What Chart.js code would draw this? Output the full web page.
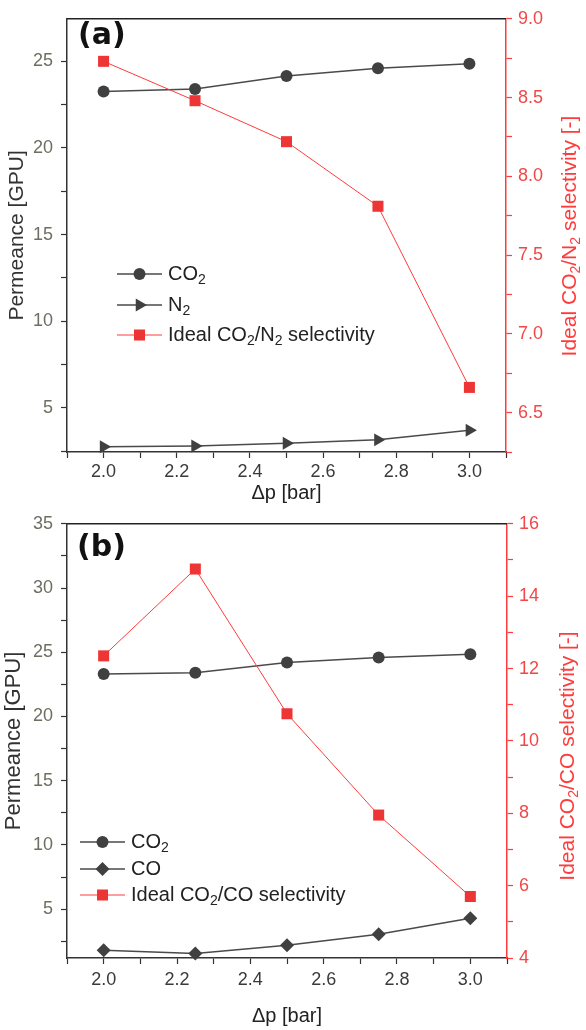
<!DOCTYPE html>
<html>
<head>
<meta charset="utf-8">
<script src="https://cdn.jsdelivr.net/npm/chart.js@4.4.1/dist/chart.umd.min.js"></script>
<style>
  body { margin: 0; background: #fff; }
  canvas { display: block; }
</style>
</head>
<body>
<canvas id="chartA" width="586" height="505"></canvas>
<canvas id="chartB" width="586" height="525"></canvas>
<script>
const pressure = [2.0, 2.25, 2.5, 2.75, 3.0];

// panel (a): CO2 / N2
const co2PermA = [23.25, 23.4, 24.15, 24.6, 24.85];
const n2Perm = [2.75, 2.8, 2.95, 3.15, 3.7];
const selCO2N2 = [8.73, 8.48, 8.22, 7.81, 6.66];

// panel (b): CO2 / CO
const co2PermB = [23.3, 23.4, 24.2, 24.6, 24.85];
const coPerm = [1.8, 1.55, 2.2, 3.05, 4.3];
const selCO2CO = [12.35, 14.75, 10.75, 7.95, 5.7];

// labelled ticks
const xTickLabels = [2.0, 2.2, 2.4, 2.6, 2.8, 3.0];
const permTicksA = [5, 10, 15, 20, 25];
const permTicksB = [5, 10, 15, 20, 25, 30, 35];
const selTicksA = [6.5, 7.0, 7.5, 8.0, 8.5, 9.0];
const selTicksB = [4, 6, 8, 10, 12, 14, 16];

const F = "'Liberation Sans', Arial, sans-serif";
const DARK = '#404040';
const RED = '#ff3b3b';

function steps(a, b, s) {
  const out = [];
  for (let v = a; v <= b + 1e-9; v += s) out.push(Math.round(v * 1000) / 1000);
  return out;
}
const has = (arr, v) => arr.some(t => Math.abs(t - v) < 1e-6);

// draws text, turning every ₂ into a real lowered small "2"
function drawRich(ctx, text, x, y, size, color, align) {
  const parts = text.split('₂');
  const big = size + 'px ' + F, small = Math.round(size * 0.68) + 'px ' + F;
  let total = 0;
  parts.forEach((p, i) => {
    ctx.font = big; total += ctx.measureText(p).width;
    if (i < parts.length - 1) { ctx.font = small; total += ctx.measureText('2').width; }
  });
  let cx = align === 'center' ? x - total / 2 : x;
  ctx.fillStyle = color;
  ctx.textAlign = 'left';
  ctx.textBaseline = 'middle';
  parts.forEach((p, i) => {
    ctx.font = big; ctx.fillText(p, cx, y); cx += ctx.measureText(p).width;
    if (i < parts.length - 1) {
      ctx.font = small; ctx.fillText('2', cx, y + size * 0.3); cx += ctx.measureText('2').width;
    }
  });
}

const decor = {
  id: 'decor',
  afterDraw(chart, args, o) {
    const { ctx, chartArea: a } = chart;
    ctx.save();
    ctx.strokeStyle = '#222';
    ctx.lineWidth = 1.5;
    ctx.beginPath(); ctx.moveTo(a.left, a.top); ctx.lineTo(a.right, a.top); ctx.stroke();

    ctx.fillStyle = '#111';
    ctx.font = "bold 30px 'DejaVu Sans', " + F;
    ctx.textBaseline = 'middle';
    ctx.textAlign = 'left';
    ctx.fillText(o.panel, o.panelX, o.panelY);

    // legend
    chart.data.datasets.forEach((ds, i) => {
      const y = o.legend.rows[i];
      ctx.strokeStyle = ds.borderColor;
      ctx.lineWidth = ds.borderWidth;
      ctx.beginPath(); ctx.moveTo(o.legend.x0, y); ctx.lineTo(o.legend.x1, y); ctx.stroke();
      ctx.fillStyle = ds.pointBackgroundColor;
      Chart.helpers.drawPoint(ctx, {
        pointStyle: ds.pointStyle, rotation: ds.pointRotation || 0,
        radius: ds.pointRadius, borderWidth: 0
      }, (o.legend.x0 + o.legend.x1) / 2, y);
      drawRich(ctx, ds.label, o.legend.xText, y, 20, '#222', 'left');
    });

    // right axis title, reading upwards
    ctx.translate(o.rightTitleX, o.rightTitleY);
    ctx.rotate(-Math.PI / 2);
    drawRich(ctx, o.rightTitle, 0, 0, 21, RED, 'center');
    ctx.restore();
  }
};

function darkSeries(label, values, style, radius, rot) {
  return {
    label, yAxisID: 'y', order: 2, clip: false,
    data: pressure.map((x, i) => ({ x, y: values[i] })),
    borderColor: '#4a4a4a', borderWidth: 1.5,
    pointStyle: style, pointRotation: rot || 0, pointRadius: radius,
    pointBackgroundColor: DARK, pointBorderWidth: 0
  };
}
function redSeries(label, values) {
  return {
    label, yAxisID: 'y1', order: 0, clip: false,
    data: pressure.map((x, i) => ({ x, y: values[i] })),
    borderColor: RED, borderWidth: 1,
    pointStyle: 'rect', pointRadius: 7.8,
    pointBackgroundColor: '#ee3535', pointBorderWidth: 0
  };
}

function makeChart(id, o) {
  return new Chart(document.getElementById(id), {
    type: 'line',
    data: { datasets: o.datasets },
    options: {
      responsive: false,
      animation: false,
      devicePixelRatio: 1,
      layout: { padding: { top: o.padTop, left: 0, right: 0, bottom: 0 } },
      plugins: { legend: { display: false }, tooltip: { enabled: false }, decor: o.decor },
      scales: {
        x: {
          type: 'linear', min: 1.9, max: 3.1,
          afterBuildTicks: s => { s.ticks = steps(1.9, 3.1, 0.1).map(v => ({ value: v })); },
          afterFit: s => { s.height = o.xAxisH; },
          border: { color: '#333', width: 1.5 },
          grid: { drawOnChartArea: false, tickLength: 6, tickColor: '#333', tickWidth: 1.2 },
          ticks: {
            autoSkip: false, maxRotation: 0, padding: o.xTickPad, color: '#3a3a3a',
            font: { size: 18, family: F },
            callback: v => has(xTickLabels, v) ? v.toFixed(1) : ''
          },
          title: { display: true, text: 'Δp [bar]', color: '#222', font: { size: 20, family: F }, padding: { top: 0, bottom: o.xTitlePad } }
        },
        y: {
          type: 'linear', position: 'left', min: o.permMin, max: o.permMax,
          afterBuildTicks: s => { s.ticks = steps(2.5, o.permMax, 2.5).map(v => ({ value: v })); },
          afterFit: s => { s.width = 67; },
          border: { color: '#333', width: 1.5 },
          grid: { drawOnChartArea: false, tickLength: 6, tickColor: '#333', tickWidth: 1.2 },
          ticks: {
            padding: 8, color: '#6e6e62', font: { size: 18, family: F },
            callback: v => has(o.permTicks, v) ? String(v) : ''
          },
          title: { display: true, text: 'Permeance [GPU]', color: '#333', font: { size: o.leftTitleSize, family: F }, padding: { top: o.leftTitlePad, bottom: 0 } }
        },
        y1: {
          type: 'linear', position: 'right', min: o.selMin, max: o.selMax,
          afterBuildTicks: s => { s.ticks = steps(o.selMin, o.selMax, o.selMinor).map(v => ({ value: v })); },
          afterFit: s => { s.width = o.rightW; },
          border: { color: RED, width: 1.5 },
          grid: { drawOnChartArea: false, tickLength: 6, tickColor: RED, tickWidth: 1.2 },
          ticks: {
            padding: 6, color: '#f04848', font: { size: 18, family: F },
            callback: v => has(o.selTicks, v) ? (o.selDigits ? v.toFixed(1) : String(v)) : ''
          }
        }
      }
    },
    plugins: [decor]
  });
}

makeChart('chartA', {
  datasets: [
    darkSeries('CO₂', co2PermA, 'circle', 6),
    darkSeries('N₂', n2Perm, 'triangle', 7.5, 90),
    redSeries('Ideal CO₂/N₂ selectivity', selCO2N2)
  ],
  padTop: 11, xAxisH: 53, xTickPad: 3, xTitlePad: 0, rightW: 80,
  permMin: 2.45, permMax: 27.45, permTicks: permTicksA,
  selMin: 6.25, selMax: 9.0, selMinor: 0.25, selTicks: selTicksA, selDigits: true,
  leftTitleSize: 21, leftTitlePad: 5,
  decor: {
    panel: '(a)', panelX: 78, panelY: 36,
    legend: { x0: 117, x1: 162, xText: 168, rows: [274, 305, 335] },
    rightTitle: 'Ideal CO₂/N₂ selectivity [-]', rightTitleX: 570, rightTitleY: 236
  }
});

makeChart('chartB', {
  datasets: [
    darkSeries('CO₂', co2PermB, 'circle', 6),
    darkSeries('CO', coPerm, 'rectRot', 7),
    redSeries('Ideal CO₂/CO selectivity', selCO2CO)
  ],
  padTop: 10, xAxisH: 72, xTickPad: 5, xTitlePad: 2, rightW: 79,
  permMin: 1.2, permMax: 35, permTicks: permTicksB,
  selMin: 4, selMax: 16, selMinor: 1, selTicks: selTicksB, selDigits: false,
  leftTitleSize: 22, leftTitlePad: 1,
  decor: {
    panel: '(b)', panelX: 77, panelY: 43,
    legend: { x0: 80, x1: 125, xText: 131, rows: [337, 364, 390] },
    rightTitle: 'Ideal CO₂/CO selectivity [-]', rightTitleX: 568, rightTitleY: 251
  }
});
</script>
</body>
</html>
